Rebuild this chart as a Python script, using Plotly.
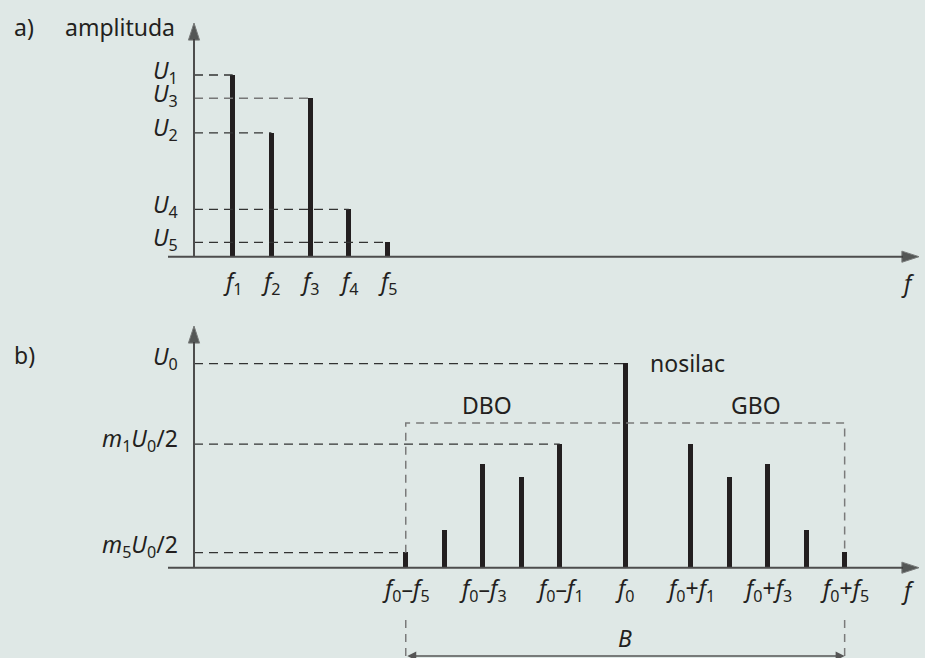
import plotly.graph_objects as go

# ---------------- data ----------------
# a) spectrum of the modulating signal
harmonic_idx = ["1", "2", "3", "4", "5"]
harmonic_pos = [1, 2, 3, 4, 5]
harmonic_amp = [1.0, 0.682, 0.872, 0.261, 0.079]          # U1..U5

# b) spectrum of the AM signal
carrier_pos = 11.2
carrier_amp = 1.0                                         # U0
sideband_idx = ["1", "2", "3", "4", "5"]
sideband_offsets = [1.7, 2.7, 3.7, 4.7, 5.7]               # f1..f5 seen from the carrier
sideband_amp = [0.606, 0.441, 0.507, 0.181, 0.0735]       # m_k*U0/2
labelled_sidebands = [0, 2, 4]                            # f1, f3, f5
band_top = 0.709

# ---------------- geometry / style ----------------
W, H = 925, 658
AXIS_PX = 194
A_UX, A_BASE, A_UY = 38.7, 256.7, 181.7
B_UX, B_BASE, B_UY = 38.5, 567.7, 204.0
SPLIT = 0.51
split_px = H * (1 - SPLIT)

BG = "#dfe8e6"
INK = "#231f20"
AXIS_C = "#4d4d4d"
DASH_C = "#333333"
BOX_C = "#7a7a7a"
FONT = "Noto Sans, Open Sans"
FS = 23

xa_range = [-AXIS_PX / A_UX, (W - AXIS_PX) / A_UX]
ya_range = [-(split_px - A_BASE) / A_UY, A_BASE / A_UY]
xb_range = [-AXIS_PX / B_UX, (W - AXIS_PX) / B_UX]
yb_range = [-(H - B_BASE) / B_UY, (B_BASE - split_px) / B_UY]

fig = go.Figure()


def seg(x, y, ax, color, width, dash=None):
    fig.add_trace(go.Scatter(
        x=x, y=y, mode="lines", xaxis=ax[0], yaxis=ax[1],
        line=dict(color=color, width=width, dash=dash),
        hoverinfo="skip", showlegend=False))


def arrow_axis(x, y, ax):
    fig.add_trace(go.Scatter(
        x=x, y=y, mode="lines+markers", xaxis=ax[0], yaxis=ax[1],
        line=dict(color=AXIS_C, width=2),
        marker=dict(symbol="arrow", size=[0, 18], angleref="previous",
                    color="#1a1a1a"),
        cliponaxis=False, hoverinfo="skip", showlegend=False))


A = ("x", "y")
B = ("x2", "y2")

# ---- panel a ----
for p, a, i in zip(harmonic_pos, harmonic_amp, harmonic_idx):
    seg([0, p], [a, a], A, "#777777" if i == "3" else DASH_C, 1.3, "9px,6px")

fig.add_trace(go.Bar(x=harmonic_pos, y=harmonic_amp, width=5 / A_UX,
                     marker=dict(color=INK, line=dict(width=0)),
                     xaxis="x", yaxis="y", hoverinfo="skip", showlegend=False))

arrow_axis([(168 - AXIS_PX) / A_UX, (919 - AXIS_PX) / A_UX], [0, 0], A)
arrow_axis([0, 0], [0, (A_BASE - 23) / A_UY], A)

# ---- panel b ----
lower_pos = [carrier_pos - o for o in sideband_offsets]
upper_pos = [carrier_pos + o for o in sideband_offsets]

seg([0, carrier_pos], [carrier_amp, carrier_amp], B, DASH_C, 1.3, "9px,6px")
seg([0, lower_pos[0]], [sideband_amp[0]] * 2, B, DASH_C, 1.3, "9px,6px")
seg([0, lower_pos[4]], [sideband_amp[4]] * 2, B, DASH_C, 1.3, "9px,6px")

# band box (DBO + GBO)
seg([lower_pos[4], lower_pos[4], upper_pos[4], upper_pos[4]],
    [sideband_amp[4], band_top, band_top, sideband_amp[4]], B, BOX_C, 1.5, "8px,6px")
low_y = -(620 - B_BASE) / B_UY
for p in (lower_pos[4], upper_pos[4]):
    seg([p, p], [low_y, yb_range[0] - 0.05], B, BOX_C, 1.5, "8px,6px")

fig.add_trace(go.Bar(x=lower_pos + [carrier_pos] + upper_pos,
                     y=sideband_amp + [carrier_amp] + sideband_amp,
                     width=5 / B_UX, marker=dict(color=INK, line=dict(width=0)),
                     xaxis="x2", yaxis="y2", hoverinfo="skip", showlegend=False))

arrow_axis([(168 - AXIS_PX) / B_UX, (919 - AXIS_PX) / B_UX], [0, 0], B)
arrow_axis([0, 0], [0, (B_BASE - 326) / B_UY], B)

# bandwidth arrow
b_y = -(656 - B_BASE) / B_UY
fig.add_annotation(x=upper_pos[4], y=b_y, ax=lower_pos[4], ay=b_y,
                   xref="x2", yref="y2", axref="x2", ayref="y2",
                   showarrow=True, arrowside="end+start", arrowhead=2,
                   arrowsize=1.2, arrowwidth=1.5, arrowcolor="#555555", text="")

# ---------------- text ----------------
def label(text, x, y, xref, yref, xanchor="center", xshift=0, yshift=0, size=FS):
    fig.add_annotation(text=text, x=x, y=y, xref=xref, yref=yref,
                       xanchor=xanchor, yanchor="middle", xshift=xshift,
                       yshift=yshift, showarrow=False,
                       font=dict(family=FONT, size=size, color=INK))


# panel a
label("a)", 12 / W, 1 - 27 / H, "paper", "paper", xanchor="left")
label("amplituda", 63 / W, 1 - 27 / H, "paper", "paper", xanchor="left")
for p, a, i in zip(harmonic_pos, harmonic_amp, harmonic_idx):
    label(f"<i>U</i><sub>{i}</sub>", 0, a, "x", "y", xanchor="right", xshift=-14, yshift=4)
    label(f"<i>f</i><sub>{i}</sub>", p, 0, "x", "y", yshift=-26)
label("<i>f</i>", (908 - AXIS_PX) / A_UX, 0, "x", "y", yshift=-26)

# panel b
label("b)", 12 / W, 1 - 355 / H, "paper", "paper", xanchor="left")
label("<i>U</i><sub>0</sub>", 0, carrier_amp, "x2", "y2", xanchor="right", xshift=-14, yshift=6)
label(f"<i>m</i><sub>{sideband_idx[0]}</sub><i>U</i><sub>0</sub>/2", 0, sideband_amp[0],
      "x2", "y2", xanchor="right", xshift=-14, yshift=5)
label(f"<i>m</i><sub>{sideband_idx[4]}</sub><i>U</i><sub>0</sub>/2", 0, sideband_amp[4],
      "x2", "y2", xanchor="right", xshift=-14, yshift=7)

for k in labelled_sidebands:
    i = sideband_idx[k]
    label(f"<i>f</i><sub>0</sub>–<i>f</i><sub>{i}</sub>", lower_pos[k], 0, "x2", "y2", yshift=-22)
    label(f"<i>f</i><sub>0</sub>+<i>f</i><sub>{i}</sub>", upper_pos[k], 0, "x2", "y2", yshift=-22)
label("<i>f</i><sub>0</sub>", carrier_pos, 0, "x2", "y2", yshift=-22)
label("<i>f</i>", (908 - AXIS_PX) / B_UX, 0, "x2", "y2", yshift=-22)

label("nosilac", carrier_pos + 0.6, carrier_amp, "x2", "y2", xanchor="left", yshift=1)
label("DBO", (486.5 - AXIS_PX) / B_UX, 0.80, "x2", "y2")
label("GBO", (755.5 - AXIS_PX) / B_UX, 0.80, "x2", "y2")
label("<i>B</i>", carrier_pos, -(638 - B_BASE) / B_UY, "x2", "y2")

hidden = dict(visible=False, fixedrange=True)
fig.update_layout(
    width=W, height=H,
    margin=dict(l=0, r=0, t=0, b=0),
    paper_bgcolor=BG, plot_bgcolor=BG,
    showlegend=False, bargap=0,
    xaxis=dict(domain=[0, 1], range=xa_range, anchor="y", **hidden),
    yaxis=dict(domain=[SPLIT, 1], range=ya_range, anchor="x", **hidden),
    xaxis2=dict(domain=[0, 1], range=xb_range, anchor="y2", **hidden),
    yaxis2=dict(domain=[0, SPLIT], range=yb_range, anchor="x2", **hidden),
)

fig.write_html("out.html")
